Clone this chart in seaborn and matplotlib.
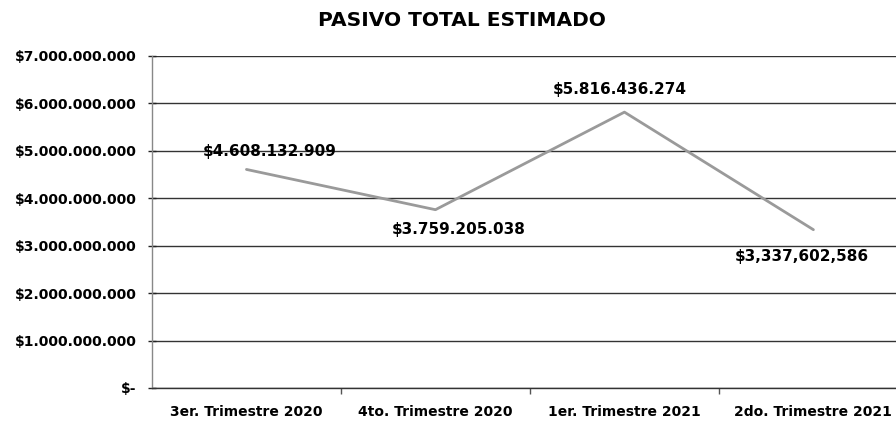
import matplotlib
matplotlib.use("Agg")
import matplotlib.pyplot as plt
import matplotlib.ticker as mticker
import seaborn as sns
import pandas as pd

# Datos
trimestres = ["3er. Trimestre 2020", "4to. Trimestre 2020",
              "1er. Trimestre 2021", "2do. Trimestre 2021"]
pasivo = [4608132909, 3759205038, 5816436274, 3337602586]
etiquetas = ["$4.608.132.909", "$3.759.205.038", "$5.816.436.274", "$3,337,602,586"]
eje_y = ["$-", "$1.000.000.000", "$2.000.000.000", "$3.000.000.000",
         "$4.000.000.000", "$5.000.000.000", "$6.000.000.000", "$7.000.000.000"]

sns.set_style("white")
plt.rcParams['font.family'] = ['DejaVu Sans']
plt.rcParams['text.color'] = 'black'
plt.rcParams['xtick.color'] = 'black'
plt.rcParams['ytick.color'] = 'black'

df = pd.DataFrame({"trimestre": trimestres, "pasivo": pasivo})

fig = plt.figure(figsize=(8.96, 4.22), dpi=100)
ax = fig.add_axes([0.1696, 0.0806, 0.8304, 0.7867])

sns.lineplot(data=df, x="trimestre", y="pasivo", color="#9a9a9a",
             linewidth=2, ax=ax, sort=False)

ax.set_ylim(0, 7e9)
ax.set_xlim(-0.5, 3.437)
ax.set_yticks(range(0, 8000000000, 1000000000))
ax.set_yticklabels(eje_y, fontsize=10, fontweight="bold")
ax.set_xticks(range(len(trimestres)))
ax.set_xticklabels(trimestres, fontsize=10, fontweight="bold")
ax.xaxis.set_minor_locator(mticker.FixedLocator([0.5, 1.5, 2.5]))
ax.tick_params(axis="x", which="major", length=0, pad=12)
ax.tick_params(axis="x", which="minor", bottom=True, length=4, width=1,
               color="#555555", direction="out")
ax.tick_params(axis="y", left=True, length=6, width=1, color="#222222",
               direction="inout", pad=8)
ax.set_xlabel("")
ax.set_ylabel("")

ax.grid(axis="y", color="#333333", linewidth=1)
ax.set_axisbelow(True)
for lado in ["top", "right"]:
    ax.spines[lado].set_visible(False)
ax.spines["bottom"].set_color("#333333")
ax.spines["bottom"].set_linewidth(1)
ax.spines["left"].set_color("#888888")
ax.spines["left"].set_linewidth(1)

# Etiquetas de datos
desplaz_x = [16.5, 16.5, -3.6, -8.6]
desplaz_y = [13, -14, 16.5, -19]
for i, (v, txt) in enumerate(zip(pasivo, etiquetas)):
    ax.annotate(txt, (i, v), xytext=(desplaz_x[i], desplaz_y[i]),
                textcoords="offset points", ha="center", va="center",
                fontsize=11, fontweight="bold")

fig.text(0.516, 0.952, "PASIVO TOTAL ESTIMADO", ha="center", va="center",
         fontsize=14.5, fontweight="bold")

fig.savefig("out.png", dpi=100)
